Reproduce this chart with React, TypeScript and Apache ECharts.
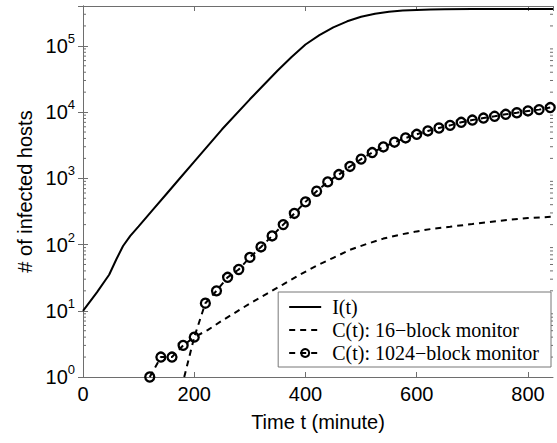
import React, { useEffect, useRef } from 'react';
import * as echarts from 'echarts';

// Time (minute) and values for each curve
const tI = [0, 25, 47, 60, 72, 85, 100, 125, 150, 175, 200, 250, 300, 350, 375, 400, 425, 450, 475, 500, 525, 550, 575, 600, 625, 650, 700, 845];
const vI = [10, 19, 35, 60, 95, 135, 188, 330, 580, 1020, 1790, 5500, 15600, 42500, 68000, 105000, 145000, 190000, 235000, 275000, 305000, 327000, 341000, 349000, 354000, 357000, 359000, 360000];

const t16 = [182, 200, 224, 250, 271, 300, 331, 360, 391, 420, 450, 480, 510, 540, 570, 600, 630, 660, 700, 750, 800, 845];
const v16 = [1, 4, 5.1, 7.1, 9.1, 12.9, 18.2, 25.1, 35.5, 47.9, 63.1, 83.2, 102, 123, 141, 158, 174, 186, 204, 229, 251, 263];

const t1024 = [120, 140, 160, 180, 200, 220, 240, 260, 280, 300, 320, 340, 360, 380, 400, 420, 440, 460, 480, 500, 520, 540, 560, 580, 600, 620, 640, 660, 680, 700, 720, 740, 760, 780, 800, 820, 840];
const v1024 = [1, 2, 2, 3, 4, 13, 20, 32, 42, 64, 92, 135, 200, 295, 441, 638, 883, 1140, 1510, 1950, 2450, 2980, 3510, 4070, 4620, 5190, 5750, 6310, 7010, 7590, 8130, 8650, 9270, 9770, 10400, 10900, 11700];

const legendNames = ['I(t)', 'C(t): 16\u2212block monitor', 'C(t): 1024\u2212block monitor'];
const xTickInterval = 200;
const X_MIN = 0;
const X_MAX = 845;
const Y_MIN = 1;
const Y_MAX = 400000;
const minorMultipliers = [2, 3, 4, 5, 6, 7, 8, 9];
const decades = [1, 10, 100, 1000, 10000, 100000];

const AX = '#6e6e6e';
const SANS = 'Liberation Sans, Arial, sans-serif';
const SERIF = 'Liberation Serif, Times New Roman, serif';
const CLEAR = 'rgba(0,0,0,0)';

export default function App() {
  const ref = useRef<HTMLDivElement>(null);
  useEffect(() => {
    if (!ref.current) return;
    const chart = echarts.init(ref.current, undefined, { renderer: 'svg' });
    const minorTicks: number[][] = [];
    decades.forEach((d) => minorMultipliers.forEach((m) => {
      const v = d * m;
      if (v < Y_MAX) minorTicks.push([X_MIN, v]);
    }));
    const pair = (t: number[], v: number[]) => t.map((x, i) => [x, v[i]]);
    const axisBase = {
      min: X_MIN, max: X_MAX, interval: xTickInterval,
      axisLine: { show: true, lineStyle: { color: AX, width: 1 } },
      axisTick: { show: true, inside: true, length: 5, lineStyle: { color: AX } },
      splitLine: { show: false },
    };
    chart.setOption({
      animation: false,
      grid: { left: 83, right: 4, top: 6, bottom: 66 },
      legend: {
        data: [
          { name: legendNames[0], itemStyle: { color: CLEAR, borderWidth: 0 } },
          { name: legendNames[1], itemStyle: { color: CLEAR, borderWidth: 0 } },
          { name: legendNames[2] },
        ],
        orient: 'vertical',
        align: 'left',
        right: 6,
        bottom: 76,
        backgroundColor: '#fff',
        borderColor: '#777',
        borderWidth: 1,
        borderRadius: 0,
        padding: [5, 12, 4, 10],
        itemWidth: 32,
        itemHeight: 10,
        itemGap: 3,
        formatter: (name: string) => `{g|}{t|${name}}`,
        textStyle: {
          fontFamily: SERIF, fontSize: 20, color: '#000', lineHeight: 20,
          rich: {
            g: { width: 6, height: 20 },
            t: { fontFamily: SERIF, fontSize: 20, color: '#000', lineHeight: 20 },
          },
        },
      },
      xAxis: [
        {
          type: 'value', position: 'bottom', ...axisBase,
          axisLabel: { show: true, fontFamily: SANS, fontSize: 20, color: '#000', margin: 7, showMaxLabel: false },
          name: 'Time t (minute)', nameLocation: 'middle', nameGap: 35,
          nameTextStyle: { fontFamily: SANS, fontSize: 20, color: '#000' },
        },
        {
          type: 'value', position: 'top', ...axisBase,
          axisLabel: { show: false },
        },
      ],
      yAxis: [
        {
          type: 'log', logBase: 10, min: Y_MIN, max: Y_MAX, position: 'left',
          axisLine: { show: true, lineStyle: { color: AX, width: 1 } },
          axisTick: { show: true, inside: true, length: 5, lineStyle: { color: AX } },
          splitLine: { show: false },
          axisLabel: {
            show: true, margin: 8, showMaxLabel: false,
            formatter: (v: number) => {
              const lg = Math.log10(v);
              const e = Math.round(lg);
              if (Math.abs(lg - e) > 1e-6) return '';
              return `{b|10}{s|${e}}`;
            },
            rich: {
              b: { fontFamily: SANS, fontSize: 20, color: '#000', lineHeight: 28 },
              s: { fontFamily: SANS, fontSize: 13, color: '#000', lineHeight: 13, verticalAlign: 'top' },
            },
          },
          name: '# of infected hosts', nameLocation: 'middle', nameGap: 45, nameRotate: 90,
          nameTextStyle: { fontFamily: SANS, fontSize: 20, color: '#000' },
        },
        {
          type: 'log', logBase: 10, min: Y_MIN, max: Y_MAX, position: 'right',
          axisLine: { show: true, lineStyle: { color: AX, width: 1 } },
          axisTick: { show: true, inside: true, length: 5, lineStyle: { color: AX } },
          splitLine: { show: false },
          axisLabel: { show: false },
        },
      ],
      series: [
        {
          name: legendNames[0], type: 'line', data: pair(tI, vI),
          symbol: 'none', lineStyle: { color: '#000', width: 2, type: 'solid' },
          itemStyle: { color: CLEAR, borderWidth: 0 },
        },
        {
          name: legendNames[1], type: 'line', data: pair(t16, v16),
          symbol: 'none', lineStyle: { color: '#000', width: 2, type: [6, 5] },
          itemStyle: { color: CLEAR, borderWidth: 0 },
        },
        {
          name: legendNames[2], type: 'line', data: pair(t1024, v1024),
          symbol: 'circle', symbolSize: 9, showAllSymbol: true,
          lineStyle: { color: '#000', width: 2, type: [6, 5] },
          itemStyle: { color: CLEAR, borderColor: '#000', borderWidth: 2.3 },
        },
        {
          type: 'custom', silent: true, clip: false, data: minorTicks,
          renderItem: (params: any, api: any) => {
            const v = api.value(1);
            const l = api.coord([X_MIN, v]);
            const r = api.coord([X_MAX, v]);
            return {
              type: 'group',
              children: [
                { type: 'line', shape: { x1: l[0], y1: l[1], x2: l[0] + 3, y2: l[1] }, style: { stroke: AX, lineWidth: 1 } },
                { type: 'line', shape: { x1: r[0] - 3, y1: r[1], x2: r[0], y2: r[1] }, style: { stroke: AX, lineWidth: 1 } },
              ],
            };
          },
        },
      ],
    });
    return () => chart.dispose();
  }, []);
  return <div ref={ref} style={{ width: 557, height: 443, position: 'absolute', left: 0, top: 0 }} />;
}
